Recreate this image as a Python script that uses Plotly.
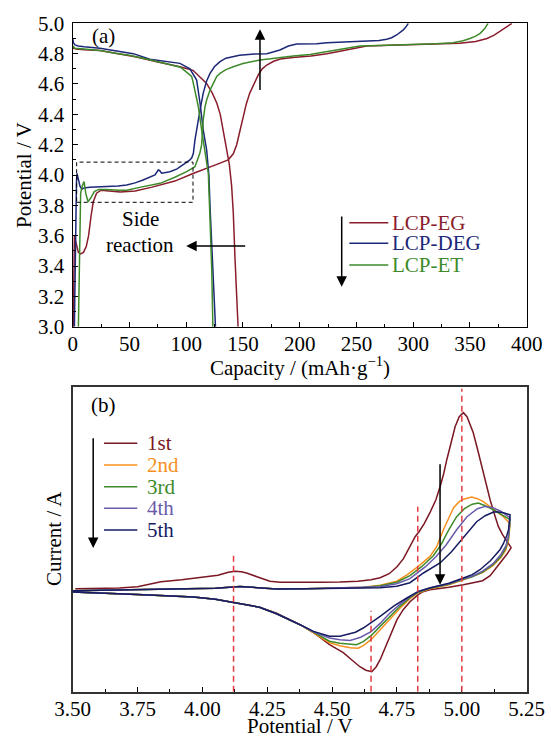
import plotly.graph_objects as go

W, H = 551, 740

# ---------------- Panel (a): galvanostatic charge/discharge ----------------
eg_charge_cap = [0.5, 1.0, 1.5, 3, 5, 7, 9.5, 12, 14, 16, 18, 21, 25, 32, 42, 55, 70, 90, 106, 127, 137,
                 141.5, 144.5, 147, 150, 153, 156, 160, 163.5, 167, 171, 177, 183, 194, 210, 224, 240, 259,
                 280, 300, 320, 341, 355, 365, 371, 376, 382, 387]
eg_charge_v = [3.0, 3.4, 3.6, 3.55, 3.49, 3.48, 3.49, 3.53, 3.6, 3.72, 3.82, 3.88, 3.9, 3.895, 3.888, 3.895,
               3.92, 3.96, 4.01, 4.07, 4.1, 4.14, 4.2, 4.28, 4.38, 4.47, 4.54, 4.61, 4.66, 4.70, 4.725, 4.75,
               4.765, 4.775, 4.785, 4.80, 4.825, 4.85, 4.855, 4.858, 4.862, 4.868, 4.88, 4.9, 4.92, 4.945,
               4.975, 5.0]
eg_dis_cap = [0, 1, 3, 10, 24, 40, 55, 74, 94.5, 106, 112, 118, 123, 127, 130, 132.7, 135.7, 138, 140,
              141.5, 143, 144.5, 145.7]
eg_dis_v = [4.85, 4.835, 4.83, 4.825, 4.82, 4.80, 4.78, 4.747, 4.714, 4.69, 4.65, 4.604, 4.54, 4.473, 4.40,
            4.297, 4.165, 4.07, 3.93, 3.75, 3.45, 3.2, 3.0]

deg_charge_cap = [1.5, 2.2, 2.8, 3.3, 3.8, 5, 6.5, 8, 10, 15, 25, 33, 40, 47.6, 55, 62, 68, 72.5, 75.4, 76.5,
                  78.4, 82, 85.7, 92, 97.4, 101, 103.3, 105, 106.3, 107.7, 109, 110.7, 113, 115, 118, 121,
                  125, 129.8, 135, 147, 160, 171, 182.6, 190, 197.3, 215, 224, 253, 270, 276.6, 281, 285.4,
                  288.5, 291.3, 293.5, 295.7]
deg_charge_v = [3.0, 3.5, 3.8, 3.95, 4.01, 3.97, 3.925, 3.906, 3.915, 3.92, 3.922, 3.923, 3.928, 3.934,
                3.948, 3.967, 3.985, 4.0, 4.033, 4.03, 4.012, 4.015, 4.022, 4.04, 4.066, 4.085, 4.099, 4.115,
                4.143, 4.23, 4.3, 4.363, 4.46, 4.54, 4.62, 4.67, 4.715, 4.747, 4.77, 4.79, 4.797, 4.80, 4.824,
                4.85, 4.864, 4.866, 4.872, 4.879, 4.887, 4.895, 4.905, 4.923, 4.94, 4.956, 4.975, 5.0]
deg_dis_cap = [0, 0.7, 2, 5, 10, 24, 40, 53.4, 68, 80, 94.5, 103.3, 109.2, 112.2, 115, 118, 120, 121, 122.5,
               123.9, 125, 125.8]
deg_dis_v = [4.90, 4.87, 4.858, 4.85, 4.845, 4.835, 4.815, 4.80, 4.763, 4.75, 4.736, 4.70, 4.626, 4.473,
             4.297, 4.165, 4.0, 3.79, 3.55, 3.374, 3.15, 3.0]

et_charge_cap = [5, 6, 7, 8.5, 10, 11.5, 13.5, 16, 19, 23, 30, 40, 47.6, 60, 77, 90, 100.4, 107.7, 110, 112,
                 113.6, 115, 116.6, 118, 121, 123.9, 126.9, 129.8, 135, 141.5, 150, 165, 182.6, 194.4, 209,
                 223.6, 240, 253, 270, 297, 320, 335, 344, 350, 355, 359, 363, 366]
et_charge_v = [3.0, 3.5, 3.88, 3.93, 3.956, 3.88, 3.824, 3.85, 3.89, 3.905, 3.905, 3.90, 3.90, 3.92, 3.945,
               3.985, 4.022, 4.055, 4.1, 4.143, 4.2, 4.363, 4.45, 4.494, 4.56, 4.604, 4.65, 4.67, 4.695,
               4.714, 4.735, 4.758, 4.776, 4.784, 4.795, 4.813, 4.835, 4.85, 4.853, 4.857, 4.865, 4.872,
               4.885, 4.90, 4.915, 4.934, 4.965, 5.0]
et_dis_cap = [0, 1, 2, 10, 24, 40, 50, 68, 85, 95, 100, 104.8, 106.3, 108.5, 110.7, 113.6, 116.6, 118, 119.5,
              121, 122.5, 123.5]
et_dis_v = [4.85, 4.84, 4.835, 4.83, 4.82, 4.80, 4.79, 4.76, 4.73, 4.71, 4.68, 4.65, 4.604, 4.53, 4.45,
            4.297, 4.165, 4.09, 4.01, 3.70, 3.374, 3.0]

samples_a = ["LCP-EG", "LCP-DEG", "LCP-ET"]
cap_ticks = [0, 50, 100, 150, 200, 250, 300, 350, 400]

# ---------------- Panel (b): cyclic voltammetry (arbitrary current units) ----------------
common_tail_v = [4.38, 4.33, 4.286, 4.22, 4.126, 4.05, 3.965, 3.87, 3.772, 3.65, 3.50]
common_tail_i = [-33.5, -27.5, -22, -15.5, -10.7, -7.5, -5.3, -4, -3, -1.8, -0.3]
low_fwd_v = [3.50, 3.70, 3.90, 4.05, 4.145, 4.20, 4.286, 4.40, 4.53]
low_fwd_i = [1.0, 2.0, 2.5, 3.5, 5.3, 4.5, 2.7, 3.0, 3.7]

c1_v = [3.51, 3.60, 3.68, 3.75, 3.84, 3.92, 3.99, 4.06, 4.10, 4.125, 4.15, 4.17, 4.21, 4.26, 4.30, 4.35,
        4.45, 4.53, 4.60, 4.65, 4.685, 4.72, 4.75, 4.775, 4.80, 4.82, 4.835, 4.855, 4.877, 4.90, 4.916,
        4.93, 4.942, 4.958, 4.974, 4.99, 5.006, 5.02, 5.044, 5.06, 5.077, 5.093, 5.109, 5.125, 5.141,
        5.157, 5.173, 5.19,
        5.175, 5.16, 5.14, 5.109, 5.08, 5.04, 5.006, 4.95, 4.877, 4.85, 4.832, 4.80, 4.774, 4.75, 4.723,
        4.70, 4.685, 4.67, 4.653, 4.63, 4.607, 4.575, 4.543, 4.51, 4.49, 4.46, 4.428, 4.38, 4.33, 4.286,
        4.22, 4.126, 4.05, 3.965, 3.87, 3.772, 3.65, 3.50]
c1_i = [3, 3.5, 3.7, 5, 10, 12, 14, 16.5, 19.5, 20.5, 20, 18.7, 15, 10.5, 9.5, 9.3, 9.5, 9.8, 10.5, 12, 14,
        18, 25, 33, 45, 55, 60, 68, 79, 92, 105, 118, 132, 150, 165, 175, 179, 175, 159, 143, 125, 108, 92,
        78, 65, 57, 51, 44,
        38, 33, 26, 16, 11, 8.5, 7, 4.5, 2, 0, -3, -10, -18, -28, -45, -58, -68, -75, -80, -78.5, -75, -68,
        -61, -56, -53, -47, -41, -33.5, -27.5, -21.5, -15.5, -10.7, -7.5, -5.3, -4, -3, -1.8, -0.3]

c2_v = low_fwd_v + [4.62, 4.685, 4.749, 4.79, 4.832, 4.877, 4.903, 4.929, 4.95, 4.968, 4.99, 5.006, 5.038,
                    5.06, 5.083, 5.11, 5.134, 5.16, 5.179, 5.186,
                    5.18, 5.17, 5.15, 5.12, 5.08, 5.04, 5.006, 4.95, 4.877, 4.832, 4.80, 4.76, 4.72, 4.685,
                    4.65, 4.62, 4.60, 4.57, 4.53, 4.49, 4.46, 4.428] + common_tail_v
c2_i = low_fwd_i + [4.5, 6.5, 10.5, 17, 25.3, 35.3, 45, 62, 73, 84, 90, 92.5, 94.7, 93, 90, 85, 80, 75, 70,
                    68,
                    52, 42, 34, 26, 19, 15, 12, 7, 3, -1, -7, -17, -28, -38, -48, -54, -56.5, -56, -54, -51,
                    -46, -41] + common_tail_i

c3_v = low_fwd_v + [4.62, 4.685, 4.749, 4.80, 4.845, 4.89, 4.92, 4.95, 4.98, 5.01, 5.04, 5.064, 5.09, 5.12,
                    5.15, 5.17, 5.186,
                    5.18, 5.17, 5.15, 5.12, 5.08, 5.04, 5.006, 4.95, 4.877, 4.832, 4.80, 4.76, 4.72, 4.685,
                    4.65, 4.62, 4.594, 4.56, 4.53, 4.49, 4.46, 4.428] + common_tail_v
c3_i = low_fwd_i + [4.3, 6, 9.5, 16, 25, 36, 47, 62, 75, 83, 87.5, 88.7, 86, 82, 78, 74.5, 72,
                    54, 44, 35, 27, 19.5, 15, 12.5, 7.5, 3.5, -0.5, -6, -15, -25, -34.7, -44, -50, -53, -52.5,
                    -51.5, -49.5, -45, -40.5] + common_tail_i

c4_v = low_fwd_v + [4.62, 4.685, 4.749, 4.80, 4.86, 4.90, 4.94, 4.98, 5.02, 5.06, 5.09, 5.12, 5.15, 5.17,
                    5.186,
                    5.18, 5.17, 5.15, 5.12, 5.08, 5.04, 5.006, 4.95, 4.877, 4.832, 4.80, 4.76, 4.72, 4.685,
                    4.65, 4.61, 4.569, 4.53, 4.49, 4.46, 4.428] + common_tail_v
c4_i = low_fwd_i + [4, 5, 8, 13, 25, 35, 47, 62, 75, 83, 85.3, 84, 80.5, 77, 74,
                    56, 46, 37, 28, 20.5, 15.5, 13, 8, 4, 0, -5, -13, -22, -31.7, -40, -45.5, -48.7, -48,
                    -46.3, -43.5, -40] + common_tail_i

c5_v = low_fwd_v + [4.62, 4.685, 4.749, 4.80, 4.852, 4.916, 4.96, 5.0, 5.03, 5.057, 5.09, 5.12, 5.134, 5.16,
                    5.186,
                    5.18, 5.173, 5.16, 5.147, 5.11, 5.07, 5.04, 5.006, 4.95, 4.877, 4.832, 4.788, 4.74, 4.685,
                    4.65, 4.62, 4.59, 4.556, 4.53, 4.49, 4.46, 4.428] + common_tail_v
c5_i = low_fwd_i + [3.5, 4, 5.5, 9, 18.7, 28.7, 40, 52, 62, 70, 76, 79.5, 80, 79, 77,
                    62, 56, 48, 42, 31, 22, 17, 13.7, 8.5, 3.7, 0.3, -6.3, -14, -24.7, -31, -36.3, -40.5,
                    -43, -44.5, -44.5, -42.5, -39.7] + common_tail_i

cycles = ["1st", "2nd", "3rd", "4th", "5th"]
peak_potentials = [4.12, 4.65, 4.83, 5.00]
peak_line_tops = [37, -19, 85, 203]
pot_ticks = [3.50, 3.75, 4.00, 4.25, 4.50, 4.75, 5.00, 5.25]

# ---------------- styling ----------------
FONT = "Liberation Serif, Times New Roman, serif"
FS = 21
col_a = {"LCP-EG": "#8A1C2C", "LCP-DEG": "#1C2878", "LCP-ET": "#3E8A2A"}
col_b = ["#7A1722", "#F7901E", "#3E8A2A", "#6A5BAA", "#161C62"]


def px(x):
    return x / W


def py(y):
    return 1 - y / H


fig = go.Figure()

curves_a = [
    ("LCP-EG", eg_charge_cap, eg_charge_v), ("LCP-EG", eg_dis_cap, eg_dis_v),
    ("LCP-DEG", deg_charge_cap, deg_charge_v), ("LCP-DEG", deg_dis_cap, deg_dis_v),
    ("LCP-ET", et_charge_cap, et_charge_v), ("LCP-ET", et_dis_cap, et_dis_v),
]
for name, cx, cy in curves_a:
    fig.add_trace(go.Scatter(x=cx, y=cy, mode="lines", line=dict(color=col_a[name], width=1.5),
                             showlegend=False, xaxis="x", yaxis="y", hoverinfo="skip"))

cv_data = [(c1_v, c1_i), (c2_v, c2_i), (c3_v, c3_i), (c4_v, c4_i), (c5_v, c5_i)]
for k, (vv, ii) in enumerate(cv_data):
    fig.add_trace(go.Scatter(x=vv, y=ii, mode="lines", line=dict(color=col_b[k], width=1.5),
                             showlegend=False, xaxis="x2", yaxis="y2", hoverinfo="skip"))

# dashed peak lines
for pv, top in zip(peak_potentials, peak_line_tops):
    fig.add_shape(type="line", xref="x2", yref="y2", x0=pv, x1=pv, y0=-100, y1=top,
                  line=dict(color="#E23B3F", width=1.5, dash="6px,4px"))

# dashed rectangle (side reaction region)
fig.add_shape(type="rect", xref="x", yref="y", x0=3.5, x1=106, y0=3.82, y1=4.085,
              line=dict(color="black", width=1, dash="4px,3px"))

xdom = [px(72.7), px(526.7)]
axis_common = dict(showline=True, linecolor="black", linewidth=1.3, mirror=True, ticks="inside",
                   ticklen=5, tickwidth=1, tickcolor="black", showgrid=False, zeroline=False,
                   automargin=False,
                   tickfont=dict(family=FONT, size=FS, color="black"))

fig.update_layout(
    width=W, height=H, margin=dict(l=0, r=0, t=0, b=0, pad=0, autoexpand=False),
    paper_bgcolor="white", plot_bgcolor="white", showlegend=False,
    font=dict(family=FONT, size=FS, color="black"),
    xaxis=dict(domain=xdom, anchor="y", range=[0, 400], tickvals=cap_ticks, ticklabelstandoff=-2,
               minor=dict(ticks="inside", ticklen=3, dtick=25, tick0=0, tickcolor="black"),
               **axis_common),
    yaxis=dict(domain=[py(326.7), py(23.3)], anchor="x", range=[3.0, 5.0], dtick=0.2, tick0=3.0,
               tickformat=".1f", ticklabelstandoff=3,
               minor=dict(ticks="inside", ticklen=3, dtick=0.1, tick0=3.0, tickcolor="black"),
               **axis_common),
    xaxis2=dict(domain=xdom, anchor="y2", range=[3.5, 5.25], tickvals=pot_ticks, tickformat=".2f",
                ticklabelstandoff=-3,
                minor=dict(ticks="inside", ticklen=3, dtick=0.125, tick0=3.5, tickcolor="black"),
                **axis_common),
    yaxis2=dict(domain=[py(691.7), py(386.7)], anchor="x2", range=[-100, 205], showline=True,
                linecolor="#333333", linewidth=1.5, mirror=True, ticks="", showticklabels=False,
                showgrid=False, zeroline=False, automargin=False),
)
fig.update_xaxes(selector=dict(anchor="y2"), linecolor="#333333", linewidth=1.5)

ann = []


def text(x, y, s, color="black", size=FS, xanchor="center", angle=0, yanchor="middle"):
    ann.append(dict(x=px(x), y=py(y), xref="paper", yref="paper", text=s, showarrow=False,
                    xanchor=xanchor, yanchor=yanchor, textangle=angle,
                    font=dict(family=FONT, size=size, color=color)))


# axis titles
text(299.7, 366, "Capacity / (mAh·g<sup>−1</sup>)")
text(24, 175, "Potential / V", angle=-90)
text(299.7, 740, "Potential / V", yanchor="bottom")
text(54, 539, "Current / A", angle=-90)
text(103, 36, "(a)")
text(103, 405, "(b)")
text(140, 219, "Side")
text(140, 245, "reaction")

# legend (a)
leg_a_y = [222.7, 243.3, 265]
for name, yy in zip(samples_a, leg_a_y):
    fig.add_shape(type="line", xref="paper", yref="paper", x0=px(349.3), x1=px(388.3), y0=py(yy), y1=py(yy),
                  line=dict(color=col_a[name], width=1.5))
    text(390, yy, name, color=col_a[name], xanchor="left")

# legend (b)
leg_b_y = [443.3, 465, 486.7, 508.3, 530]
for k, (name, yy) in enumerate(zip(cycles, leg_b_y)):
    fig.add_shape(type="line", xref="paper", yref="paper", x0=px(104), x1=px(137.3), y0=py(yy), y1=py(yy),
                  line=dict(color=col_b[k], width=1.5))
    text(145, yy, name, color=col_b[k], xanchor="left")


def arrow(xr, yr, x0, y0, x1, y1):
    ann.append(dict(xref=xr, yref=yr, axref=xr, ayref=yr, x=x1, y=y1, ax=x0, ay=y0, text="",
                    showarrow=True, arrowhead=2, arrowsize=1.4, arrowwidth=1.5, arrowcolor="black",
                    standoff=0, startstandoff=0))


arrow("x", "y", 165, 4.55, 165, 4.96)
arrow("x", "y", 237, 3.736, 237, 3.264)
arrow("x", "y", 153.3, 3.532, 100, 3.532)
arrow("x2", "y2", 3.579, 155, 3.579, 43.7)
arrow("x2", "y2", 4.916, 129, 4.916, 7)

fig.update_layout(annotations=ann)
fig.write_html("out.html", config={"displayModeBar": False},
               post_script="document.body.style.margin='0px';document.body.style.overflow='hidden';")
